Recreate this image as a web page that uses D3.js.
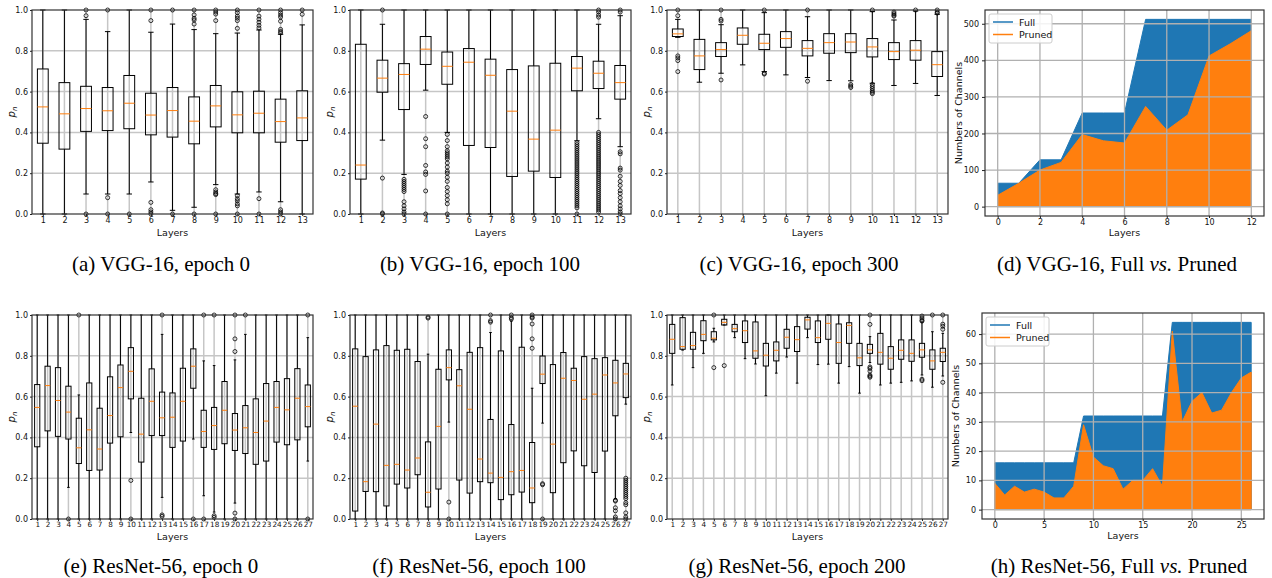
<!DOCTYPE html>
<html>
<head>
<meta charset="utf-8">
<script src="https://cdn.jsdelivr.net/npm/d3@7"></script>
<style>
body{margin:0;background:#fff}
</style>
</head>
<body>
<script>
// box stats per layer: [whisker low, q1, median, q3, whisker high]
var vgg0Stats=[
  [0,.347,.525,.711,1],[0,.318,.491,.644,1],[.098,.405,.517,.626,.954],[.098,.409,.506,.620,.894],
  [.098,.418,.543,.679,1],[.157,.388,.485,.592,.891],[.018,.377,.507,.620,.931],[.033,.344,.455,.574,.904],
  [.144,.427,.530,.630,.884],[.098,.398,.486,.599,.887],[.108,.398,.494,.602,.902],[.06,.352,.453,.563,.881],
  [0,.36,.471,.604,.927]]
var vgg0Fliers=[
  [],[],[1,.972,0],[1,.08,0],[0],[1,.948,.057,.021,.01,0],[1,0],[1,.976,.959,.951,.931,0],
  [1,.99,.98,.948,.119,.108,.1,.095,0],[1,.987,.97,.96,.948,.91,.09,.075,.065,.05,.04,0],
  [1,.97,.955,.94,.925,.912,.075,0],[1,.987,.975,.965,.945,.905,.895,.888,.021,.01,0],[1,.979]]

var vgg100Stats=[
  [0,.171,.24,.832,1],[.362,.597,.666,.754,.93],[.194,.512,.684,.737,1],[.607,.733,.808,.87,1],
  [.4,.636,.724,.794,1],[0,.336,.744,.811,1],[0,.326,.68,.759,1],[0,.184,.504,.708,1],
  [0,.21,.367,.726,1],[0,.179,.411,.739,1],[.359,.604,.715,.772,1],[.467,.615,.69,.749,.93],
  [.33,.563,.644,.728,.972]]
var vgg100Fliers=[
  [],[1,.176,.005,0],[.17,.16,.15,.14,.13,.12,.11,.06,.04,.025,.01,0],[.478,.369,.33,.238,.206,.194,.113,0],
  [.39,.36,.33,.31,.3,.29,.28,.27,.25,.23,.21,.2,.18,.16,.13,.11,.09,.07,.05,0],[],[],[],[],[],
  [.35,.34,.33,.32,.31,.3,.29,.28,.27,.26,.25,.24,.23,.22,.21,.2,.19,.18,.17,.16,.15,.14,.13,.12,.11,.1,.09,.08,.07,.06,.05,.04,.03,0],
  [1,.99,.975,.965,.4,.39,.38,.37,.36,.35,.34,.33,.32,.31,.3,.29,.28,.27,.26,.25,.24,.23,.22,.21,.2,.19,.18,.17,.16,.15,.14,.13,.12,.11,.1,.09,.08,.07,.06,.05,.04,.03,.02,.01],
  [1,.99,.305,.295,.225,.215,.185,.16,.14,.115,.1,.08,.06,.04,.025,.01,0]]

var vgg300Stats=[
  [.866,.87,.883,.907,.954],[.646,.708,.775,.856,1],[.69,.772,.806,.84,.928],[.731,.832,.876,.912,1],
  [.698,.806,.837,.881,.987],[.682,.817,.86,.894,1],[.669,.775,.812,.85,.967],[.654,.788,.84,.884,1],
  [.653,.791,.843,.884,1],[.641,.77,.819,.86,.992],[.63,.757,.796,.84,.951],[.64,.754,.803,.85,.995],
  [.581,.674,.732,.796,.979]]
var vgg300Fliers=[
  [1,.972,.775,.765,.752,.698],[],[1,.954,.946,.657],[],[1,.69,.686],[],[1,.651],[],
  [.635,.627,.62],[1,.635,.625,.615,.605,.597,.59],[.99,.982,.975,.97],[1],[1,.99,.985]]

var res0Stats=[
  [0,.354,.547,.659,1],[0,.432,.654,.749,1],[0,.405,.581,.742,1],[.155,.392,.524,.651,1],
  [0,.272,.349,.494,.608],[0,.238,.437,.667,1],[0,.24,.343,.543,1],[0,.372,.507,.697,1],
  [0,.403,.644,.755,1],[.424,.589,.724,.84,1],[0,.279,.416,.592,1],[0,.409,.577,.736,1],
  [.106,.409,.496,.622,.905],[0,.351,.499,.618,1],[0,.382,.577,.739,1],[.392,.641,.749,.834,1],
  [.114,.351,.429,.533,.775],[.034,.341,.458,.547,.752],[0,.369,.533,.674,1],[.078,.336,.436,.517,.78],
  [0,.321,.447,.556,.905],[0,.268,.424,.589,1],[0,.284,.48,.664,1],[0,.377,.547,.674,1],
  [0,.364,.535,.688,1],[0,.388,.592,.737,1],[.284,.452,.551,.657,.889]]
var res0Fliers=[
  [],[],[],[0],[1],[],[],[],[],[.189,0],[],[],[1,.02,.013],[],[],[0],[1,0],[1,.016,.008],[],
  [1,.883,.821,.029,0],[1],[],[],[],[],[],[1,0]]

var res100Stats=[
  [0,.039,.553,.834,1],[0,.135,.183,.796,1],[0,.134,.465,.829,1],[0,.064,.263,.85,1],
  [0,.171,.268,.827,1],[0,.152,.24,.832,1],[0,.217,.299,.772,1],[0,.059,.131,.378,.808],
  [0,.147,.454,.734,1],[.475,.682,.742,.829,1],[0,.191,.653,.732,1],[0,.127,.538,.817,1],
  [0,.183,.294,.84,1],[0,.178,.225,.488,.914],[0,.095,.204,.824,1],[0,.119,.232,.463,.97],
  [0,.132,.238,.842,1],[0,.08,.152,.375,.641],[.47,.664,.71,.799,1],[0,.129,.367,.757,1],
  [0,.276,.69,.816,1],[0,.334,.679,.739,1],[0,.261,.587,.796,1],[0,.228,.612,.786,1],
  [0,.333,.706,.791,1],[.1,.506,.667,.778,1],[.563,.595,.711,.763,1]]
var res100Fliers=[
  [],[],[],[],[],[],[],[.99,.985],[],[.083,0],[],[],[],[1,.972,.965],[],[1,.987,.98],[],
  [1,.99,.985,.956,.883,.837],[.173,.168,0],[],[],[],[],[],[],[.092,.088,.055,.04,.01,0],
  [.2,.19,.18,.17,.16,.15,.14,.13,.12,.11,.1,.08,.07,.03,.01,0]]

var res200Stats=[
  [.657,.812,.881,.954,1],[.828,.832,.845,.987,1],[.742,.832,.85,.915,1],[.812,.874,.905,.972,1],
  [.868,.878,.886,.918,.935],[.951,.951,.964,.979,1],[.889,.918,.933,.954,1],[.786,.865,.923,.971,1],
  [.76,.788,.824,.966,1],[.604,.75,.803,.861,1],[.715,.775,.827,.868,1],[.794,.837,.891,.93,1],
  [.666,.821,.879,.943,1],[.889,.931,.976,.989,1],[.757,.865,.889,.971,1],[.759,.881,.959,1,1],
  [.666,.763,.865,.956,1],[.747,.861,.949,.962,1],[.617,.752,.79,.861,1],[.767,.812,.829,.856,.894],
  [.657,.759,.817,.91,1],[.666,.734,.788,.845,1],[.67,.783,.827,.878,1],[.677,.773,.812,.878,1],
  [.706,.793,.829,.861,.965],[.646,.734,.775,.829,.918],[.701,.772,.817,.837,.91]]
var res200Fliers=[
  [],[],[],[],[1,.742],[.752],[],[],[],[],[],[],[],[],[],[],[],[],[],
  [1,.954,.745,.738,.725,.705,.7,.695],[],[],[],[],[.995,.985,.975,.97,.685,.678],[1],[1,.955,.945,.93,.67]]

// channel counts per layer
var vggFull=[64,64,128,128,256,256,256,512,512,512,512,512,512]
var vggPruned=[31,64,100,121,197,180,174,274,209,251,412,445,481]
var resFull=[16,16,16,16,16,16,16,16,16,32,32,32,32,32,32,32,32,32,64,64,64,64,64,64,64,64,64]
var resPruned=[9,5,8,6,7,6,4,4,8,29,18,15,14,7,10,10,14,8,61,30,37,40,33,34,40,45,47]

var pTicks=[0,0.2,0.4,0.6,0.8,1.0]
var legendNames=["Full","Pruned"]
var blue="#1f77b4", orange="#ff7f0e"
var sans='"DejaVu Sans",sans-serif'

var svg=d3.select("body").append("svg")
  .attr('width',1272).attr('height',578)

var styleAxis=function(size){
  return function(g){
    g.select(".domain").remove()
    g.selectAll("text").style("font-family",sans).attr("font-size",size).attr("fill","#111")
    g.selectAll("line").attr("stroke","#222")
  }
}

var drawBoxes=function(box,stats,fliers,layerGap){
  var n=stats.length
  var xScale=d3.scaleLinear().domain([0.5,n+0.5]).range([box.left,box.right])
  var yScale=d3.scaleLinear().domain([0,1]).range([box.bottom,box.top])
  var g=svg.append("g")
  var half=(xScale(1.25)-xScale(1))

  // grid
  g.selectAll(".hg").data(pTicks.slice(1,5)).enter().append("line")
    .attr('x1',box.left).attr('x2',box.right)
    .attr('y1',function(d){return yScale(d)}).attr('y2',function(d){return yScale(d)})
    .attr('stroke','#c6c6c6').attr('stroke-width',1.5)
  g.selectAll(".vg").data(d3.range(1,n+1)).enter().append("line")
    .attr('x1',function(d){return xScale(d)}).attr('x2',function(d){return xScale(d)})
    .attr('y1',box.top).attr('y2',box.bottom)
    .attr('stroke','#c6c6c6').attr('stroke-width',1.5)

  var b=g.selectAll(".box").data(stats).enter().append("g")
  // whiskers
  b.append("line").attr('x1',function(d,i){return xScale(i+1)}).attr('x2',function(d,i){return xScale(i+1)})
    .attr('y1',function(d){return yScale(d[0])}).attr('y2',function(d){return yScale(d[1])})
    .attr('stroke','#000').attr('stroke-width',1)
  b.append("line").attr('x1',function(d,i){return xScale(i+1)}).attr('x2',function(d,i){return xScale(i+1)})
    .attr('y1',function(d){return yScale(d[3])}).attr('y2',function(d){return yScale(d[4])})
    .attr('stroke','#000').attr('stroke-width',1)
  // caps
  ;[0,4].forEach(function(k){
    b.append("line")
      .attr('x1',function(d,i){return xScale(i+1)-half/2}).attr('x2',function(d,i){return xScale(i+1)+half/2})
      .attr('y1',function(d){return yScale(d[k])}).attr('y2',function(d){return yScale(d[k])})
      .attr('stroke','#000').attr('stroke-width',1)
  })
  // box
  b.append("rect")
    .attr('x',function(d,i){return xScale(i+1)-half})
    .attr('width',2*half)
    .attr('y',function(d){return yScale(d[3])})
    .attr('height',function(d){return yScale(d[1])-yScale(d[3])})
    .attr('fill','none').attr('stroke','#000').attr('stroke-width',1)
  // median
  b.append("line")
    .attr('x1',function(d,i){return xScale(i+1)-half}).attr('x2',function(d,i){return xScale(i+1)+half})
    .attr('y1',function(d){return yScale(d[2])}).attr('y2',function(d){return yScale(d[2])})
    .attr('stroke',orange).attr('stroke-width',1)
  // outliers
  fliers.forEach(function(f,i){
    g.selectAll(null).data(f).enter().append("circle")
      .attr('cx',xScale(i+1)).attr('cy',function(d){return yScale(d)})
      .attr('r',2).attr('fill','none').attr('stroke','#000').attr('stroke-width',0.8)
  })

  g.append("rect").attr('x',box.left).attr('y',box.top)
    .attr('width',box.right-box.left).attr('height',box.bottom-box.top)
    .attr('fill','none').attr('stroke','#333').attr('stroke-width',1.2)

  var yAxis=d3.axisLeft(yScale).tickValues(pTicks).tickFormat(d3.format(".1f")).tickSize(2).tickPadding(2)
  g.append("g").attr('transform','translate('+box.left+',0)').call(yAxis).call(styleAxis(8))
  var xAxis=d3.axisBottom(xScale).tickValues(d3.range(1,n+1)).tickFormat(d3.format("d")).tickSize(2).tickPadding(1)
  g.append("g").attr('transform','translate(0,'+box.bottom+')').call(xAxis).call(styleAxis(n>20?7.3:8))

  g.append("text").attr('x',(box.left+box.right)/2).attr('y',box.bottom+layerGap)
    .attr('text-anchor','middle').style('font-family',sans).attr('font-size',9.5).attr('fill','#111').text("Layers")
  var yl=g.append("text").attr('transform','translate('+(box.left-17)+','+((box.top+box.bottom)/2)+') rotate(-90)')
    .attr('text-anchor','middle').style('font-family',sans).attr('font-size',10).attr('fill','#111')
  yl.append("tspan").attr('font-style','italic').text("p")
  yl.append("tspan").attr('font-style','italic').attr('font-size',7).attr('dy',2).text("n")
}

var drawArea=function(box,full,pruned,xTicks,yTicks){
  var n=full.length
  var yMax=d3.max(full)
  var xScale=d3.scaleLinear().domain([-0.05*(n-1),1.05*(n-1)]).range([box.left,box.right])
  var yScale=d3.scaleLinear().domain([-0.05*yMax,1.05*yMax]).range([box.bottom,box.top])
  var g=svg.append("g")
  var area=d3.area().x(function(d,i){return xScale(i)}).y0(yScale(0)).y1(function(d){return yScale(d)})

  g.append("path").attr('d',area(full)).attr('fill',blue).attr('stroke',blue).attr('stroke-width',1)
  g.append("path").attr('d',area(pruned)).attr('fill',orange).attr('stroke',orange).attr('stroke-width',1)

  // grid over the areas
  g.selectAll(".hg").data(yTicks).enter().append("line")
    .attr('x1',box.left).attr('x2',box.right)
    .attr('y1',function(d){return yScale(d)}).attr('y2',function(d){return yScale(d)})
    .attr('stroke','#b0b0b0').attr('stroke-width',1.3)
  g.selectAll(".vg").data(xTicks).enter().append("line")
    .attr('x1',function(d){return xScale(d)}).attr('x2',function(d){return xScale(d)})
    .attr('y1',box.top).attr('y2',box.bottom)
    .attr('stroke','#b0b0b0').attr('stroke-width',1.3)

  g.append("rect").attr('x',box.left).attr('y',box.top)
    .attr('width',box.right-box.left).attr('height',box.bottom-box.top)
    .attr('fill','none').attr('stroke','#333').attr('stroke-width',1.2)

  var yAxis=d3.axisLeft(yScale).tickValues(yTicks).tickSize(3).tickPadding(3)
  g.append("g").attr('transform','translate('+box.left+',0)').call(yAxis).call(styleAxis(8))
  var xAxis=d3.axisBottom(xScale).tickValues(xTicks).tickSize(2).tickPadding(1)
  g.append("g").attr('transform','translate(0,'+box.bottom+')').call(xAxis).call(styleAxis(8))

  g.append("text").attr('x',(box.left+box.right)/2).attr('y',box.bottom+20)
    .attr('text-anchor','middle').style('font-family',sans).attr('font-size',9.5).attr('fill','#111').text("Layers")
  g.append("text").attr('transform','translate('+(box.left-23)+','+((box.top+box.bottom)/2)+') rotate(-90)')
    .attr('text-anchor','middle').style('font-family',sans).attr('font-size',9.5).attr('fill','#111').text("Numbers of Channels")

  // legend
  var lg=g.append("g").attr('transform','translate('+(box.left+4)+','+(box.top+4)+')')
  lg.append("rect").attr('width',63).attr('height',29).attr('rx',2)
    .attr('fill','#fff').attr('fill-opacity',0.85).attr('stroke','#ccc')
  lg.selectAll(".it").data(legendNames).enter().append("g")
    .attr('transform',function(d,i){return 'translate(4,'+(8+i*12.5)+')'})
    .each(function(d,i){
      var s=d3.select(this)
      s.append("line").attr('x1',0).attr('x2',20).attr('stroke',i?orange:blue).attr('stroke-width',1.5)
      s.append("text").attr('x',26).attr('y',3.5).style('font-family',sans).attr('font-size',9.5).attr('fill','#111').text(d)
    })
}

drawBoxes({left:32,right:313,top:10,bottom:214},vgg0Stats,vgg0Fliers,22)
drawBoxes({left:350,right:631,top:10,bottom:214},vgg100Stats,vgg100Fliers,22)
drawBoxes({left:667,right:948,top:10,bottom:214},vgg300Stats,vgg300Fliers,22)
drawArea({left:985,right:1264,top:10,bottom:216},vggFull,vggPruned,[0,2,4,6,8,10,12],[0,100,200,300,400,500])
drawBoxes({left:32,right:313,top:315,bottom:519},res0Stats,res0Fliers,21)
drawBoxes({left:350,right:631,top:315,bottom:519},res100Stats,res100Fliers,21)
drawBoxes({left:667,right:948,top:315,bottom:519},res200Stats,res200Fliers,21)
drawArea({left:982,right:1264,top:313,bottom:519},resFull,resPruned,[0,5,10,15,20,25],[0,10,20,30,40,50,60])

// captions
var captions=[
  {x:161,y:271,pre:"(a) VGG-16, epoch 0"},{x:480,y:271,pre:"(b) VGG-16, epoch 100"},
  {x:799,y:271,pre:"(c) VGG-16, epoch 300"},{x:1117,y:271,pre:"(d) VGG-16, Full ",it:"vs.",post:" Pruned"},
  {x:161,y:573,pre:"(e) ResNet-56, epoch 0"},{x:479,y:573,pre:"(f) ResNet-56, epoch 100"},
  {x:797,y:573,pre:"(g) ResNet-56, epoch 200"},{x:1119,y:573,pre:"(h) ResNet-56, Full ",it:"vs.",post:" Pruned"}]
captions.forEach(function(c){
  var t=svg.append("text").attr('x',c.x).attr('y',c.y).attr('text-anchor','middle')
    .style('font-family','"Liberation Serif","Times New Roman",serif').attr('font-size',21).attr('fill','#000')
    .style('white-space','pre')
  t.append("tspan").text(c.pre)
  if(c.it){
    t.append("tspan").attr('font-style','italic').text(c.it)
    t.append("tspan").text(c.post)
  }
})
</script>
</body>
</html>
